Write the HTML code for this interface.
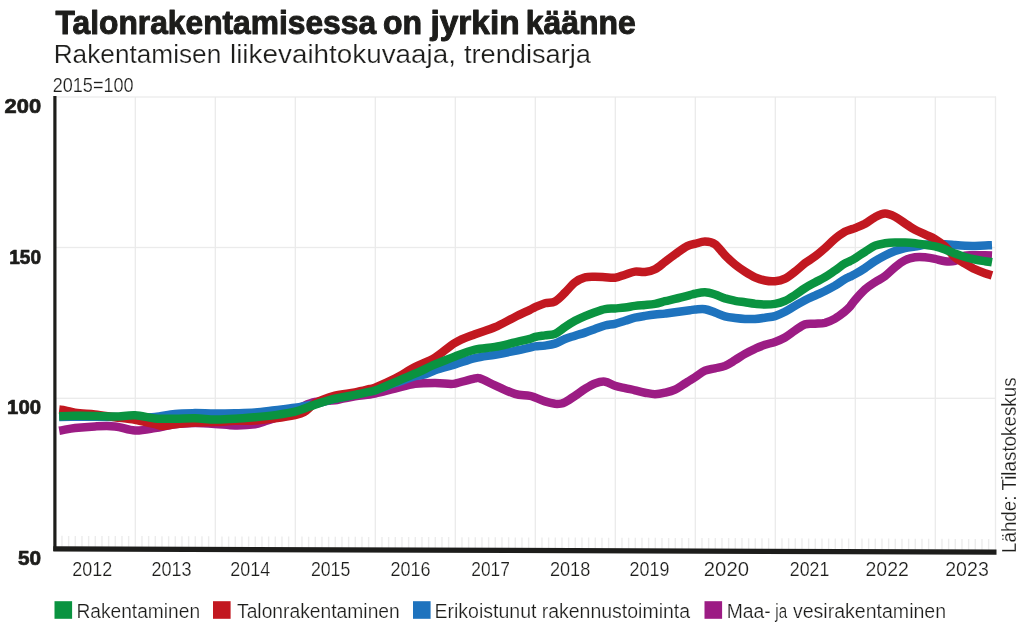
<!DOCTYPE html>
<html lang="fi"><head><meta charset="utf-8"><title>Talonrakentamisessa on jyrkin käänne</title>
<style>
html,body{margin:0;padding:0;background:#fff}
body{width:1024px;height:627px;overflow:hidden;font-family:"Liberation Sans",sans-serif}
svg{display:block;will-change:transform}
text{font-family:"Liberation Sans",sans-serif;fill:#1d1d1b}
text.l{stroke:#fff;stroke-width:0.22px}
text.h{stroke:#1d1d1b;stroke-width:0.7px;stroke-linejoin:round}
text.t{stroke:#1d1d1b;stroke-width:1px;stroke-linejoin:round}
</style></head><body>
<svg width="1024" height="627" viewBox="0 0 1024 627">
<rect x="56" y="96.35" width="939.7" height="1.3" fill="#ebebeb"/>
<rect x="56" y="246.85" width="939.7" height="1.3" fill="#ebebeb"/>
<rect x="56" y="397.65" width="939.7" height="1.3" fill="#ebebeb"/>
<rect x="134.65" y="97" width="1.3" height="452" fill="#ebebeb"/>
<rect x="214.65" y="97" width="1.3" height="452" fill="#ebebeb"/>
<rect x="294.65" y="97" width="1.3" height="452" fill="#ebebeb"/>
<rect x="374.65" y="97" width="1.3" height="452" fill="#ebebeb"/>
<rect x="454.65" y="97" width="1.3" height="452" fill="#ebebeb"/>
<rect x="534.65" y="97" width="1.3" height="452" fill="#ebebeb"/>
<rect x="614.65" y="97" width="1.3" height="452" fill="#ebebeb"/>
<rect x="694.65" y="97" width="1.3" height="452" fill="#ebebeb"/>
<rect x="774.65" y="97" width="1.3" height="452" fill="#ebebeb"/>
<rect x="854.65" y="97" width="1.3" height="452" fill="#ebebeb"/>
<rect x="934.65" y="97" width="1.3" height="452" fill="#ebebeb"/>
<rect x="994.85" y="96.4" width="1.3" height="455" fill="#ebebeb"/>
<path d="M61.97,535.8V547.3M68.63,535.9V547.4M75.30,535.9V547.4M81.97,535.9V547.4M88.63,535.9V547.4M95.30,535.9V547.4M101.97,536.0V547.5M108.63,536.0V547.5M115.30,536.0V547.5M121.97,536.0V547.5M128.63,536.1V547.6M141.97,536.1V547.6M148.63,536.1V547.6M155.30,536.1V547.6M161.97,536.2V547.7M168.63,536.2V547.7M175.30,536.2V547.7M181.97,536.2V547.7M188.63,536.3V547.8M195.30,536.3V547.8M201.97,536.3V547.8M208.63,536.3V547.8M221.97,536.4V547.9M228.63,536.4V547.9M235.30,536.4V547.9M241.97,536.4V547.9M248.63,536.5V548.0M255.30,536.5V548.0M261.97,536.5V548.0M268.63,536.5V548.0M275.30,536.6V548.1M281.97,536.6V548.1M288.63,536.6V548.1M301.97,536.6V548.1M308.63,536.7V548.2M315.30,536.7V548.2M321.97,536.7V548.2M328.63,536.7V548.2M335.30,536.8V548.3M341.97,536.8V548.3M348.63,536.8V548.3M355.30,536.8V548.3M361.97,536.8V548.3M368.63,536.9V548.4M381.97,536.9V548.4M388.63,536.9V548.4M395.30,537.0V548.5M401.97,537.0V548.5M408.63,537.0V548.5M415.30,537.0V548.5M421.97,537.1V548.6M428.63,537.1V548.6M435.30,537.1V548.6M441.97,537.1V548.6M448.63,537.1V548.6M461.97,537.2V548.7M468.63,537.2V548.7M475.30,537.2V548.7M481.97,537.3V548.8M488.63,537.3V548.8M495.30,537.3V548.8M501.97,537.3V548.8M508.63,537.3V548.8M515.30,537.4V548.9M521.97,537.4V548.9M528.63,537.4V548.9M541.97,537.5V549.0M548.63,537.5V549.0M555.30,537.5V549.0M561.97,537.5V549.0M568.63,537.5V549.0M575.30,537.6V549.1M581.97,537.6V549.1M588.63,537.6V549.1M595.30,537.6V549.1M601.97,537.7V549.2M608.63,537.7V549.2M621.97,537.7V549.2M628.63,537.8V549.3M635.30,537.8V549.3M641.97,537.8V549.3M648.63,537.8V549.3M655.30,537.8V549.3M661.97,537.9V549.4M668.63,537.9V549.4M675.30,537.9V549.4M681.97,537.9V549.4M688.63,538.0V549.5M701.97,538.0V549.5M708.63,538.0V549.5M715.30,538.0V549.5M721.97,538.1V549.6M728.63,538.1V549.6M735.30,538.1V549.6M741.97,538.1V549.6M748.63,538.2V549.7M755.30,538.2V549.7M761.97,538.2V549.7M768.63,538.2V549.7M781.97,538.3V549.8M788.63,538.3V549.8M795.30,538.3V549.8M801.97,538.3V549.8M808.63,538.4V549.9M815.30,538.4V549.9M821.97,538.4V549.9M828.63,538.4V549.9M835.30,538.5V550.0M841.97,538.5V550.0M848.63,538.5V550.0M861.97,538.5V550.0M868.63,538.6V550.1M875.30,538.6V550.1M881.97,538.6V550.1M888.63,538.6V550.1M895.30,538.7V550.2M901.97,538.7V550.2M908.63,538.7V550.2M915.30,538.7V550.2M921.97,538.7V550.2M928.63,538.8V550.3M941.97,538.8V550.3M948.63,538.8V550.3M955.30,538.9V550.4M961.97,538.9V550.4M968.63,538.9V550.4M975.30,538.9V550.4M981.97,539.0V550.5M988.63,539.0V550.5" stroke="#ececec" stroke-width="1.4" fill="none"/>
<path d="M59.2,430.8C64.5,429.9 69.7,428.6 75.0,428.0C81.7,427.2 88.3,426.7 95.0,426.4C101.7,426.1 108.3,425.7 115.0,426.4C121.7,427.1 128.3,430.2 135.0,430.5C141.7,430.8 148.3,429.2 155.0,428.1C161.7,427.1 168.3,425.0 175.0,424.2C181.7,423.4 188.3,423.2 195.0,423.1C201.7,423.1 208.3,423.5 215.0,423.9C221.7,424.3 228.3,425.4 235.0,425.5C241.7,425.6 248.3,425.3 255.0,424.4C258.3,423.9 261.7,422.4 265.0,421.3C268.3,420.2 271.7,419.1 275.0,418.0C281.7,415.7 288.3,413.8 295.0,411.0C298.0,409.7 301.0,407.2 304.0,405.8C307.7,404.2 311.3,402.7 315.0,402.0C321.7,400.8 328.3,401.1 335.0,400.3C337.7,400.0 340.3,399.1 343.0,398.6C347.0,397.8 351.0,396.9 355.0,396.3C360.0,395.5 365.0,395.2 370.0,394.5C371.7,394.3 373.3,393.9 375.0,393.5C381.7,392.0 388.3,390.2 395.0,388.6C401.7,387.0 408.3,384.9 415.0,383.9C421.7,383.0 428.3,383.0 435.0,383.0C440.3,383.0 445.7,383.7 451.0,383.9C452.3,383.9 453.7,383.9 455.0,383.6C461.7,382.1 468.3,379.9 475.0,378.4C476.3,378.1 477.7,377.6 479.0,378.1C484.3,379.9 489.7,383.0 495.0,385.3C501.7,388.2 508.3,391.9 515.0,393.9C520.0,395.4 525.0,395.0 530.0,395.9C531.7,396.2 533.3,396.9 535.0,397.5C538.3,398.7 541.7,400.4 545.0,401.4C548.3,402.4 551.7,403.3 555.0,403.8C557.0,404.0 559.0,403.9 561.0,403.6C562.3,403.4 563.7,402.9 565.0,402.2C568.3,400.4 571.7,398.1 575.0,395.9C578.3,393.7 581.7,391.0 585.0,388.9C588.3,386.8 591.7,384.6 595.0,383.4C598.3,382.2 601.7,381.3 605.0,381.7C608.3,382.1 611.7,384.7 615.0,385.8C618.3,386.9 621.7,387.4 625.0,388.1C628.3,388.9 631.7,389.5 635.0,390.3C638.3,391.1 641.7,392.1 645.0,392.7C648.3,393.3 651.7,394.2 655.0,394.2C658.3,394.2 661.7,393.5 665.0,392.7C668.3,391.9 671.7,391.1 675.0,389.6C678.3,388.1 681.7,385.5 685.0,383.5C686.7,382.5 688.3,381.4 690.0,380.4C691.7,379.4 693.3,378.4 695.0,377.3C698.3,375.1 701.7,372.1 705.0,370.6C708.3,369.1 711.7,369.1 715.0,368.3C718.3,367.5 721.7,367.2 725.0,365.9C728.3,364.5 731.7,362.2 735.0,360.2C738.3,358.2 741.7,355.8 745.0,353.9C748.3,352.0 751.7,350.3 755.0,348.8C758.3,347.2 761.7,345.9 765.0,344.8C768.3,343.7 771.7,343.1 775.0,341.9C778.3,340.7 781.7,339.4 785.0,337.5C788.3,335.6 791.7,332.7 795.0,330.5C798.3,328.3 801.7,325.5 805.0,324.4C808.3,323.3 811.7,324.0 815.0,323.8C818.3,323.5 821.7,323.6 825.0,322.8C828.3,321.9 831.7,320.5 835.0,318.6C838.3,316.7 841.7,314.0 845.0,311.4C846.7,310.0 848.3,308.4 850.0,306.6C851.7,304.7 853.3,302.0 855.0,300.1C858.3,296.3 861.7,292.4 865.0,289.4C868.3,286.4 871.7,284.4 875.0,282.2C878.3,280.0 881.7,278.6 885.0,276.1C888.3,273.6 891.7,269.9 895.0,267.2C898.3,264.5 901.7,261.8 905.0,260.2C908.3,258.6 911.7,257.8 915.0,257.3C918.3,256.8 921.7,257.0 925.0,257.3C928.3,257.6 931.7,258.2 935.0,258.9C938.3,259.6 941.7,260.9 945.0,261.2C948.3,261.6 951.7,261.7 955.0,260.8C958.3,259.9 961.7,256.5 965.0,255.6C968.3,254.7 971.7,255.4 975.0,255.3C978.3,255.2 981.7,255.3 985.0,255.3C987.3,255.3 989.7,255.4 992.0,255.5" stroke="#9c1c84" stroke-width="8.5" fill="none" stroke-linejoin="round" stroke-linecap="butt"/>
<path d="M59.2,417.0C71.1,416.9 83.1,416.6 95.0,416.7C108.3,416.8 121.7,417.4 135.0,417.5C141.7,417.5 148.3,417.6 155.0,417.0C161.7,416.4 168.3,414.5 175.0,413.9C181.7,413.2 188.3,413.2 195.0,413.1C201.7,413.1 208.3,413.6 215.0,413.6C221.7,413.6 228.3,413.5 235.0,413.3C241.7,413.1 248.3,413.0 255.0,412.5C261.7,412.0 268.3,411.0 275.0,410.2C281.7,409.4 288.3,408.9 295.0,407.8C301.7,406.8 308.3,405.4 315.0,403.9C321.7,402.4 328.3,400.2 335.0,398.6C341.7,397.1 348.3,396.0 355.0,394.6C360.0,393.5 365.0,392.1 370.0,391.0C371.7,390.6 373.3,390.6 375.0,390.1C381.7,388.0 388.3,385.4 395.0,383.1C401.7,380.8 408.3,378.2 415.0,376.2C418.3,375.3 421.7,375.3 425.0,374.4C428.3,373.4 431.7,371.4 435.0,370.2C441.7,368.0 448.3,366.4 455.0,364.4C461.7,362.4 468.3,359.7 475.0,358.1C481.7,356.5 488.3,355.9 495.0,354.7C501.7,353.5 508.3,352.2 515.0,350.8C520.0,349.8 525.0,348.7 530.0,347.6C531.7,347.2 533.3,346.6 535.0,346.4C538.3,346.0 541.7,346.1 545.0,345.6C548.3,345.1 551.7,344.7 555.0,343.6C558.3,342.5 561.7,340.3 565.0,339.0C568.3,337.7 571.7,336.8 575.0,335.7C578.3,334.6 581.7,333.7 585.0,332.6C588.3,331.5 591.7,330.2 595.0,329.0C598.3,327.8 601.7,326.4 605.0,325.5C608.3,324.6 611.7,324.6 615.0,323.8C618.3,323.0 621.7,321.8 625.0,320.8C628.3,319.8 631.7,318.5 635.0,317.7C638.3,316.9 641.7,316.4 645.0,315.9C648.3,315.4 651.7,314.9 655.0,314.5C658.3,314.1 661.7,314.0 665.0,313.6C668.3,313.2 671.7,312.8 675.0,312.3C680.0,311.6 685.0,310.9 690.0,310.2C691.7,310.0 693.3,309.6 695.0,309.5C698.3,309.3 701.7,308.7 705.0,309.2C708.3,309.7 711.7,311.3 715.0,312.5C718.3,313.7 721.7,315.5 725.0,316.4C728.3,317.3 731.7,317.6 735.0,318.0C738.3,318.4 741.7,318.8 745.0,318.9C748.3,319.0 751.7,319.1 755.0,318.9C758.3,318.7 761.7,318.2 765.0,317.7C768.3,317.2 771.7,317.1 775.0,316.1C778.3,315.1 781.7,313.5 785.0,311.8C788.3,310.0 791.7,307.8 795.0,305.9C798.3,304.0 801.7,301.9 805.0,300.2C808.3,298.5 811.7,297.1 815.0,295.6C818.3,294.0 821.7,292.6 825.0,291.0C828.3,289.3 831.7,287.5 835.0,285.6C838.3,283.6 841.7,281.1 845.0,279.1C846.7,278.1 848.3,277.5 850.0,276.7C851.7,275.9 853.3,275.2 855.0,274.2C858.3,272.3 861.7,270.3 865.0,268.1C868.3,265.9 871.7,263.3 875.0,261.2C878.3,259.1 881.7,257.2 885.0,255.5C888.3,253.8 891.7,252.3 895.0,251.1C898.3,249.9 901.7,248.8 905.0,248.1C908.3,247.3 911.7,247.1 915.0,246.6C918.3,246.1 921.7,245.2 925.0,244.8C928.3,244.4 931.7,244.2 935.0,244.1C938.3,244.0 941.7,244.0 945.0,244.2C948.3,244.4 951.7,244.8 955.0,245.1C958.3,245.4 961.7,245.7 965.0,245.8C968.3,245.9 971.7,246.0 975.0,245.9C978.3,245.8 981.7,245.6 985.0,245.5C987.3,245.4 989.7,245.3 992.0,245.2" stroke="#1e73be" stroke-width="8.5" fill="none" stroke-linejoin="round" stroke-linecap="butt"/>
<path d="M59.2,409.6C61.1,409.8 63.1,409.9 65.0,410.3C68.3,411.0 71.7,412.3 75.0,412.8C81.7,413.7 88.3,413.7 95.0,414.4C101.7,415.1 108.3,416.3 115.0,417.2C121.7,418.1 128.3,418.6 135.0,419.8C141.7,421.0 148.3,422.7 155.0,424.2C157.5,424.8 160.0,426.1 162.5,426.1C166.7,426.1 170.8,424.6 175.0,424.2C181.7,423.5 188.3,423.0 195.0,422.6C201.7,422.2 208.3,422.3 215.0,422.0C221.7,421.7 228.3,421.1 235.0,420.8C241.7,420.6 248.3,420.9 255.0,420.5C261.7,420.1 268.3,419.1 275.0,418.2C281.7,417.3 288.3,416.4 295.0,415.0C298.0,414.4 301.0,414.0 304.0,412.2C307.7,410.0 311.3,405.2 315.0,403.2C321.7,399.6 328.3,397.4 335.0,395.6C341.7,393.8 348.3,393.7 355.0,392.4C360.0,391.5 365.0,390.2 370.0,389.0C371.7,388.6 373.3,388.3 375.0,387.6C381.7,384.9 388.3,382.0 395.0,378.6C401.7,375.2 408.3,370.6 415.0,367.1C421.7,363.6 428.3,361.6 435.0,357.6C441.7,353.6 448.3,346.7 455.0,342.8C461.7,338.9 468.3,336.8 475.0,334.2C481.7,331.6 488.3,330.1 495.0,327.2C501.7,324.3 508.3,320.3 515.0,317.0C520.0,314.5 525.0,312.2 530.0,309.8C531.7,309.0 533.3,307.9 535.0,307.2C538.3,305.7 541.7,304.2 545.0,303.2C548.3,302.2 551.7,303.2 555.0,301.4C558.3,299.6 561.7,295.8 565.0,292.6C568.3,289.4 571.7,284.9 575.0,282.4C578.3,279.9 581.7,278.3 585.0,277.4C588.3,276.4 591.7,276.7 595.0,276.7C598.3,276.7 601.7,277.0 605.0,277.2C608.3,277.4 611.7,278.1 615.0,277.7C618.3,277.3 621.7,275.7 625.0,274.7C628.3,273.7 631.7,272.1 635.0,271.6C638.3,271.2 641.7,272.4 645.0,272.0C648.3,271.6 651.7,270.9 655.0,269.2C658.3,267.5 661.7,264.4 665.0,261.9C668.3,259.4 671.7,256.8 675.0,254.4C678.3,252.0 681.7,249.4 685.0,247.3C686.7,246.3 688.3,245.7 690.0,245.1C691.7,244.5 693.3,244.1 695.0,243.8C698.3,243.0 701.7,241.5 705.0,241.6C708.3,241.7 711.7,241.9 715.0,244.2C718.3,246.5 721.7,251.8 725.0,255.2C728.3,258.6 731.7,261.8 735.0,264.5C738.3,267.2 741.7,269.5 745.0,271.6C748.3,273.7 751.7,275.8 755.0,277.3C758.3,278.8 761.7,279.8 765.0,280.5C768.3,281.2 771.7,281.6 775.0,281.2C778.3,280.9 781.7,280.2 785.0,278.6C788.3,277.0 791.7,274.2 795.0,271.6C798.3,269.1 801.7,265.8 805.0,263.2C808.3,260.7 811.7,258.9 815.0,256.4C818.3,253.9 821.7,251.0 825.0,248.1C828.3,245.2 831.7,241.5 835.0,238.8C838.3,236.0 841.7,233.7 845.0,231.7C846.7,230.7 848.3,230.4 850.0,229.8C851.7,229.2 853.3,228.8 855.0,228.1C858.3,226.8 861.7,225.6 865.0,223.8C868.3,221.9 871.7,218.9 875.0,217.2C878.3,215.5 881.7,213.7 885.0,213.6C888.3,213.5 891.7,215.1 895.0,216.7C898.3,218.3 901.7,221.2 905.0,223.4C908.3,225.6 911.7,227.9 915.0,229.7C918.3,231.5 921.7,232.8 925.0,234.4C928.3,236.0 931.7,237.1 935.0,239.1C938.3,241.1 941.7,243.4 945.0,246.4C948.3,249.4 951.7,254.3 955.0,257.2C958.3,260.1 961.7,261.6 965.0,263.6C968.3,265.6 971.7,267.7 975.0,269.3C978.3,270.9 981.7,272.1 985.0,273.3C987.3,274.1 989.7,274.7 992.0,275.4" stroke="#c21820" stroke-width="8.5" fill="none" stroke-linejoin="round" stroke-linecap="butt"/>
<path d="M59.2,416.3C64.5,416.1 69.7,415.9 75.0,415.8C81.7,415.7 88.3,415.8 95.0,415.9C101.7,416.0 108.3,416.7 115.0,416.6C121.7,416.5 128.3,415.0 135.0,415.3C141.7,415.6 148.3,417.8 155.0,418.4C161.7,419.0 168.3,418.8 175.0,418.8C181.7,418.8 188.3,418.2 195.0,418.3C201.7,418.4 208.3,419.4 215.0,419.5C221.7,419.6 228.3,419.2 235.0,418.8C241.7,418.4 248.3,417.8 255.0,417.2C261.7,416.6 268.3,416.0 275.0,415.1C281.7,414.2 288.3,413.4 295.0,411.7C301.7,409.9 308.3,406.8 315.0,404.6C321.7,402.4 328.3,400.3 335.0,398.7C341.7,397.1 348.3,396.2 355.0,394.9C360.0,393.9 365.0,392.8 370.0,391.7C371.7,391.3 373.3,391.2 375.0,390.6C381.7,388.1 388.3,385.0 395.0,382.2C401.7,379.4 408.3,376.7 415.0,373.7C421.7,370.8 428.3,367.3 435.0,364.4C441.7,361.6 448.3,358.9 455.0,356.4C461.7,353.9 468.3,351.3 475.0,349.7C481.7,348.1 488.3,348.1 495.0,346.9C501.7,345.7 508.3,343.9 515.0,342.4C520.0,341.2 525.0,340.1 530.0,338.8C531.7,338.4 533.3,337.4 535.0,337.0C538.3,336.2 541.7,335.9 545.0,335.4C548.3,334.9 551.7,335.2 555.0,333.8C558.3,332.4 561.7,329.2 565.0,327.0C568.3,324.8 571.7,322.6 575.0,320.8C578.3,319.0 581.7,317.5 585.0,316.1C588.3,314.7 591.7,313.4 595.0,312.2C598.3,311.0 601.7,309.7 605.0,309.1C608.3,308.5 611.7,308.7 615.0,308.4C618.3,308.1 621.7,307.9 625.0,307.5C628.3,307.1 631.7,306.3 635.0,305.9C638.3,305.5 641.7,305.3 645.0,305.0C648.3,304.7 651.7,304.5 655.0,303.9C658.3,303.3 661.7,302.1 665.0,301.2C668.3,300.4 671.7,299.7 675.0,298.9C680.0,297.7 685.0,296.4 690.0,295.1C691.7,294.7 693.3,294.1 695.0,293.8C698.3,293.1 701.7,292.2 705.0,292.3C708.3,292.4 711.7,293.5 715.0,294.5C718.3,295.5 721.7,297.3 725.0,298.4C728.3,299.4 731.7,300.1 735.0,300.8C738.3,301.5 741.7,301.8 745.0,302.3C748.3,302.8 751.7,303.4 755.0,303.8C758.3,304.1 761.7,304.5 765.0,304.5C768.3,304.5 771.7,304.5 775.0,303.9C778.3,303.3 781.7,302.4 785.0,300.9C788.3,299.4 791.7,297.1 795.0,295.0C798.3,292.8 801.7,290.2 805.0,288.1C808.3,286.0 811.7,284.3 815.0,282.5C818.3,280.7 821.7,279.1 825.0,277.1C828.3,275.1 831.7,272.7 835.0,270.5C838.3,268.2 841.7,265.4 845.0,263.4C846.7,262.3 848.3,261.9 850.0,261.1C851.7,260.2 853.3,259.3 855.0,258.3C858.3,256.2 861.7,253.9 865.0,251.8C868.3,249.7 871.7,247.1 875.0,245.7C878.3,244.2 881.7,243.8 885.0,243.3C888.3,242.8 891.7,242.6 895.0,242.5C898.3,242.4 901.7,242.4 905.0,242.5C908.3,242.6 911.7,242.9 915.0,243.3C918.3,243.7 921.7,244.3 925.0,244.8C928.3,245.3 931.7,245.6 935.0,246.4C938.3,247.2 941.7,248.3 945.0,249.5C948.3,250.7 951.7,252.3 955.0,253.6C958.3,254.8 961.7,256.0 965.0,257.0C968.3,258.0 971.7,258.8 975.0,259.5C978.3,260.2 981.7,260.7 985.0,261.2C987.3,261.6 989.7,261.9 992.0,262.3" stroke="#0a9340" stroke-width="8.5" fill="none" stroke-linejoin="round" stroke-linecap="butt"/>
<rect x="53.3" y="96" width="3.2" height="455" fill="#1d1d1b"/>
<polygon points="53.3,546.3 996.5,549.5 996.5,554.7 53.3,551.5" fill="#1d1d1b"/>
<rect x="54.5" y="601.2" width="17.6" height="17.6" fill="#0a9340"/>
<rect x="213.0" y="601.2" width="17.6" height="17.6" fill="#c21820"/>
<rect x="413.0" y="601.2" width="17.6" height="17.6" fill="#1e73be"/>
<rect x="704.5" y="601.2" width="17.6" height="17.6" fill="#9c1c84"/>
<text x="55.5" y="34.3" font-size="33" font-weight="bold" text-anchor="start" textLength="320.6" lengthAdjust="spacingAndGlyphs" class="t">Talonrakentamisessa</text>
<text x="383.0" y="34.3" font-size="33" font-weight="bold" text-anchor="start" textLength="39.1" lengthAdjust="spacingAndGlyphs" class="t">on</text>
<text x="430.4" y="34.3" font-size="33" font-weight="bold" text-anchor="start" textLength="89.2" lengthAdjust="spacingAndGlyphs" class="t">jyrkin</text>
<text x="525.8" y="34.3" font-size="33" font-weight="bold" text-anchor="start" textLength="110.1" lengthAdjust="spacingAndGlyphs" class="t">käänne</text>
<text x="53.7" y="62.8" font-size="26" font-weight="normal" text-anchor="start" textLength="167.6" lengthAdjust="spacingAndGlyphs" class="l">Rakentamisen</text>
<text x="230.0" y="62.8" font-size="26" font-weight="normal" text-anchor="start" textLength="226.0" lengthAdjust="spacingAndGlyphs" class="l">liikevaihtokuvaaja,</text>
<text x="463.9" y="62.8" font-size="26" font-weight="normal" text-anchor="start" textLength="127.1" lengthAdjust="spacingAndGlyphs" class="l">trendisarja</text>
<text x="52.7" y="92.2" font-size="20" font-weight="normal" text-anchor="start" textLength="80.9" lengthAdjust="spacingAndGlyphs" class="l">2015=100</text>
<text x="4.6" y="112.8" font-size="20" font-weight="bold" text-anchor="start" textLength="36.5" lengthAdjust="spacingAndGlyphs" class="h">200</text>
<text x="9.2" y="263.7" font-size="20" font-weight="bold" text-anchor="start" textLength="31.8" lengthAdjust="spacingAndGlyphs" class="h">150</text>
<text x="7.1" y="413.9" font-size="20" font-weight="bold" text-anchor="start" textLength="33.9" lengthAdjust="spacingAndGlyphs" class="h">100</text>
<text x="17.9" y="565.1" font-size="20" font-weight="bold" text-anchor="start" textLength="23.1" lengthAdjust="spacingAndGlyphs" class="h">50</text>
<text x="72.2" y="575.6" font-size="20" font-weight="normal" text-anchor="start" textLength="40.0" lengthAdjust="spacingAndGlyphs" class="l">2012</text>
<text x="151.5" y="575.6" font-size="20" font-weight="normal" text-anchor="start" textLength="40.1" lengthAdjust="spacingAndGlyphs" class="l">2013</text>
<text x="230.3" y="575.6" font-size="20" font-weight="normal" text-anchor="start" textLength="39.9" lengthAdjust="spacingAndGlyphs" class="l">2014</text>
<text x="310.9" y="575.6" font-size="20" font-weight="normal" text-anchor="start" textLength="39.4" lengthAdjust="spacingAndGlyphs" class="l">2015</text>
<text x="390.5" y="575.6" font-size="20" font-weight="normal" text-anchor="start" textLength="40.0" lengthAdjust="spacingAndGlyphs" class="l">2016</text>
<text x="471.3" y="575.6" font-size="20" font-weight="normal" text-anchor="start" textLength="38.5" lengthAdjust="spacingAndGlyphs" class="l">2017</text>
<text x="549.9" y="575.6" font-size="20" font-weight="normal" text-anchor="start" textLength="40.4" lengthAdjust="spacingAndGlyphs" class="l">2018</text>
<text x="629.6" y="575.6" font-size="20" font-weight="normal" text-anchor="start" textLength="39.8" lengthAdjust="spacingAndGlyphs" class="l">2019</text>
<text x="703.8" y="575.6" font-size="20" font-weight="normal" text-anchor="start" textLength="45.2" lengthAdjust="spacingAndGlyphs" class="l">2020</text>
<text x="789.8" y="575.6" font-size="20" font-weight="normal" text-anchor="start" textLength="39.5" lengthAdjust="spacingAndGlyphs" class="l">2021</text>
<text x="865.5" y="575.6" font-size="20" font-weight="normal" text-anchor="start" textLength="43.4" lengthAdjust="spacingAndGlyphs" class="l">2022</text>
<text x="945.2" y="575.6" font-size="20" font-weight="normal" text-anchor="start" textLength="43.6" lengthAdjust="spacingAndGlyphs" class="l">2023</text>
<text x="76.4" y="618.4" font-size="20" font-weight="normal" text-anchor="start" textLength="123.7" lengthAdjust="spacingAndGlyphs" class="l">Rakentaminen</text>
<text x="237.0" y="618.4" font-size="20" font-weight="normal" text-anchor="start" textLength="162.8" lengthAdjust="spacingAndGlyphs" class="l">Talonrakentaminen</text>
<text x="434.5" y="618.4" font-size="20" font-weight="normal" text-anchor="start" textLength="102.0" lengthAdjust="spacingAndGlyphs" class="l">Erikoistunut</text>
<text x="541.7" y="618.4" font-size="20" font-weight="normal" text-anchor="start" textLength="148.4" lengthAdjust="spacingAndGlyphs" class="l">rakennustoiminta</text>
<text x="726.7" y="618.4" font-size="20" font-weight="normal" text-anchor="start" textLength="44.0" lengthAdjust="spacingAndGlyphs" class="l">Maa-</text>
<text x="775.3" y="618.4" font-size="20" font-weight="normal" text-anchor="start" textLength="11.8" lengthAdjust="spacingAndGlyphs" class="l">ja</text>
<text x="792.9" y="618.4" font-size="20" font-weight="normal" text-anchor="start" textLength="153.2" lengthAdjust="spacingAndGlyphs" class="l">vesirakentaminen</text>
<text transform="translate(1016.2,551.3) rotate(-90)" class="l" x="-1.7" font-size="20.5" textLength="175.55" lengthAdjust="spacingAndGlyphs">Lähde: Tilastokeskus</text>
</svg>
</body></html>
